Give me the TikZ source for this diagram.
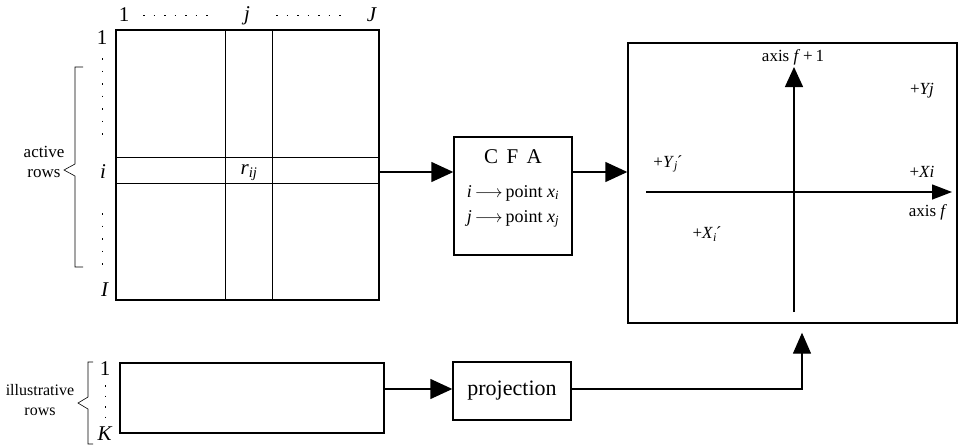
\documentclass[tikz,border=0pt]{standalone}
\usepackage{fontspec}
\setmainfont{Liberation Serif}
\usetikzlibrary{arrows.meta}
\begin{document}
\begin{tikzpicture}[x=1pt,y=-1pt,
  box/.style={draw, line width=1.4pt, inner sep=0pt},
  thinline/.style={line width=0.6pt},
  conn/.style={line width=1.4pt, -{Triangle[length=22pt,width=20pt]}},
  axisline/.style={line width=1.4pt, -{Triangle[length=20pt,width=17pt]}},
  lab/.style={font=\fontsize{17}{20}\selectfont, inner sep=0pt},
  idx/.style={font=\fontsize{21}{24}\selectfont, inner sep=0pt},
  dotline/.style={line width=1pt, dash pattern=on 1.5pt off 9pt},
  brace/.style={line width=0.6pt}]
\useasboundingbox (0,0) rectangle (962,447);

% data matrix
\node[box, minimum width=263pt, minimum height=270pt] (M) at (247.5,165) {};
\coordinate (cj1) at (225,0);
\coordinate (cj2) at (272,0);
\coordinate (ri1) at (0,157);
\coordinate (ri2) at (0,183);
\coordinate (ri) at (0,172);
\draw[thinline] (M.north -| cj1) -- (M.south -| cj1);
\draw[thinline] (M.north -| cj2) -- (M.south -| cj2);
\draw[thinline] (M.west |- ri1) -- (M.east |- ri1);
\draw[thinline] (M.west |- ri2) -- (M.east |- ri2);
\node[idx] (rij) at (249,173) {\textit{r}\textsubscript{\textit{ij}}};

% column indices
\node[idx] (c1) at (124,15) {1};
\node[idx] (cj) at (247,16) {\textit{j}};
\node[idx] (cJ) at (372,15) {\textit{J}};
\draw[dotline] (143,15) -- (212,15);
\draw[dotline] (276,15) -- (346,15);

% row indices
\node[idx] (r1) at (102,38) {1};
\node[idx] (rii) at (103,172) {\textit{i}};
\node[idx] (rI) at (105,290) {\textit{I}};
\draw[dotline, dash pattern=on 1.5pt off 11pt] (102,58) -- (102,145);
\draw[dotline, dash pattern=on 1.5pt off 11pt] (102,213) -- (102,268);

% active rows bracket
\draw[brace] (83,67) -- (75,67) -- (75,164) -- (64,170) -- (75,176) -- (75,267) -- (83,267);
\node[lab, align=center] (act) at (44,162) {active\\rows};

% CFA box
\node[box, minimum width=118pt, minimum height=118pt] (CFA) at (513,196) {};
\node[font=\fontsize{21}{24}\selectfont, inner sep=0pt] (cfat) at (513,157) {C\hspace{0.4em}F\hspace{0.4em}A};
\node[lab, font=\fontsize{18}{21}\selectfont] (cfa1) at (513,193) {\textit{i}\,$\longrightarrow$\,point \textit{x}\textsubscript{\textit{i}}};
\node[lab, font=\fontsize{18}{21}\selectfont] (cfa2) at (513,219) {\textit{j}\,$\longrightarrow$\,point \textit{x}\textsubscript{\textit{j}}};

% factor plane
\node[box, minimum width=329pt, minimum height=280pt] (P) at (792.5,183) {};
\coordinate (hx0) at (646,192);
\coordinate (hx1) at (952,192);
\coordinate (vy0) at (794,312);
\coordinate (vy1) at (794,67);
\draw[axisline, -{Triangle[length=20pt,width=15pt]}] (hx0) -- (hx1);
\draw[axisline, -{Triangle[length=20pt,width=18pt]}] (vy0) -- (vy1);
\node[lab] (af1) at (793,57) {axis \textit{f}\,+\,1};
\node[lab] (af) at (928,212) {axis \textit{f}};
\node[lab] (Yj) at (922,91) {+\textit{Yj}};
\node[lab] (Xi) at (922,172) {+\textit{Xi}};
\node[lab] (Yjp) at (668,164) {+\textit{Y}\textsubscript{\textit{j}}\kern-1pt´};
\node[lab] (Xip) at (707,234) {+\textit{X}\textsubscript{\textit{i}}\kern-1pt´};

% illustrative rows
\node[box, minimum width=264pt, minimum height=70pt] (R) at (252,398) {};
\node[idx] (k1) at (105,369) {1};
\node[idx] (kK) at (105,434) {\textit{K}};
\draw[dotline, dash pattern=on 1.5pt off 9pt] (105,385) -- (105,422);
\draw[brace] (93,362) -- (88,362) -- (88,397) -- (78,403) -- (88,409) -- (88,444) -- (93,444);
\node[lab, align=center, font=\fontsize{16}{20}\selectfont] (ill) at (40,400) {illustrative\\rows};

% projection
\node[box, minimum width=118pt, minimum height=58pt, font=\fontsize{22}{26}\selectfont] (Q) at (512,391) {projection};
\coordinate (ry) at (0,389);
\coordinate (up) at (802,0);

% connectors
\draw[conn] (M.east |- ri) -- (CFA.west |- ri);
\draw[conn] (CFA.east |- ri) -- (P.west |- ri);
\draw[conn] (R.east |- ry) -- (Q.west |- ry);
\draw[conn, -{Triangle[length=21pt,width=18pt]}, shorten >=9pt] (Q.east |- ry) -| (P.south -| up);
\end{tikzpicture}
\end{document}
